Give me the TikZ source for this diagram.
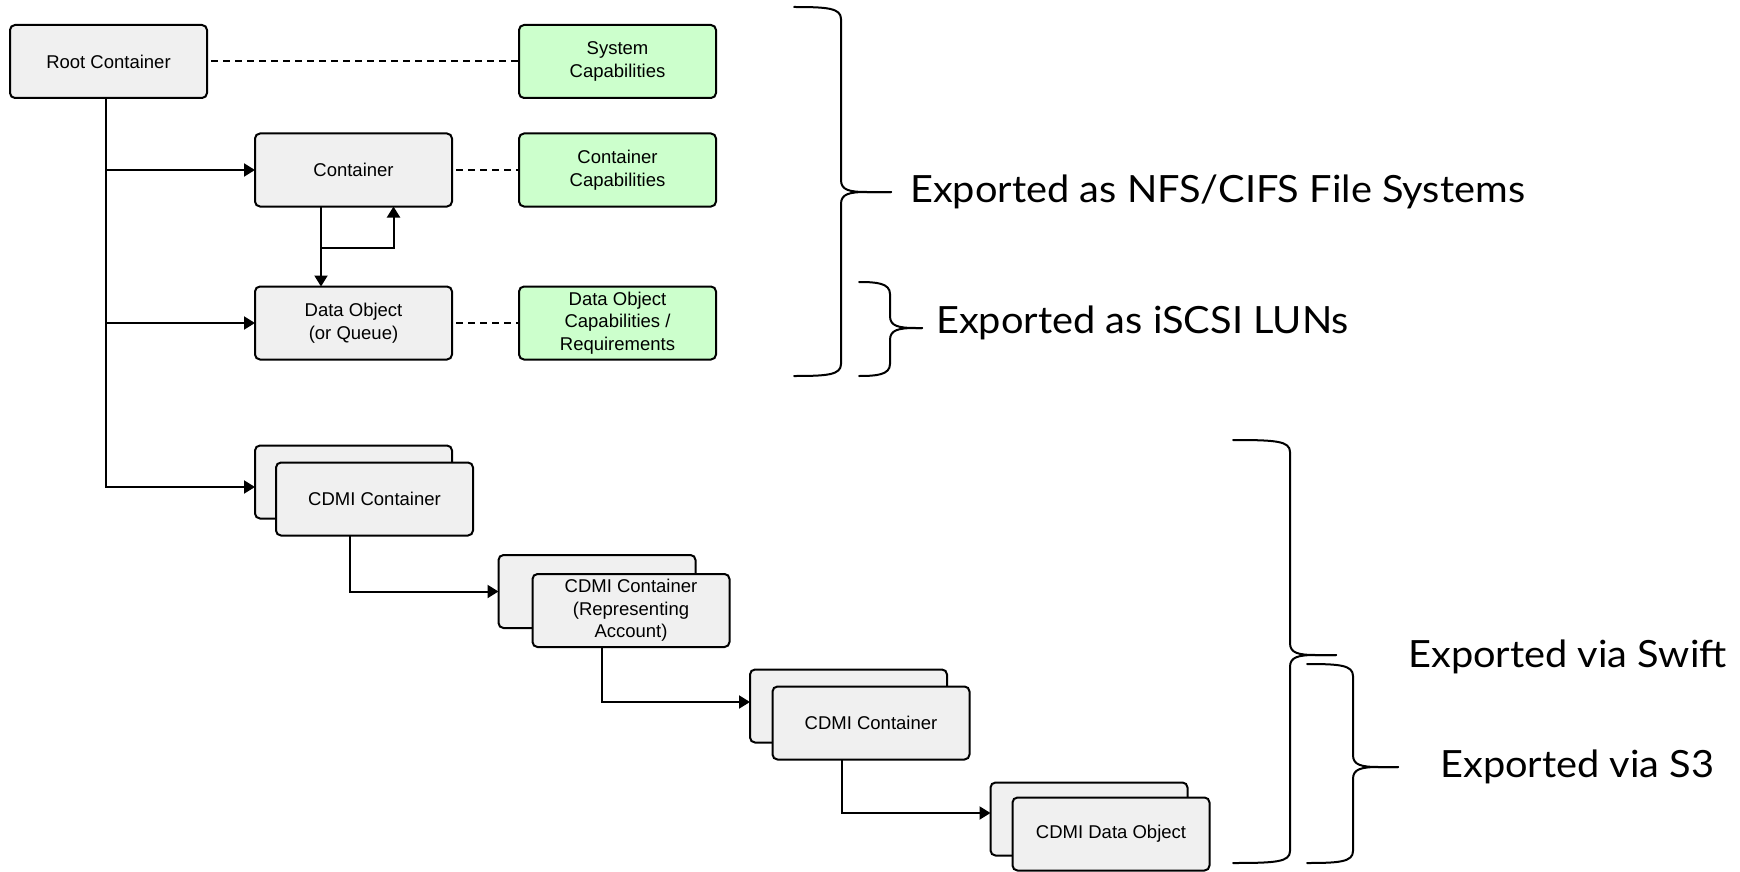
\documentclass[tikz,border=0pt]{standalone}
\usepackage{fontspec}
\setmainfont{Liberation Sans}
\newfontfamily\bracefont{Lato}
\usetikzlibrary{arrows.meta,calc}
\definecolor{boxgray}{HTML}{F0F0F0}
\definecolor{capgreen}{HTML}{CCFFCC}
\newcommand\mybrace[6]{% xl, xv, ytop, ytip, ybot, xtip
  \draw[brc] (#1,#3) .. controls ({#2-14},#3) and (#2,{#3+1}) .. (#2,{#3+12})
    -- (#2,{#4-12}) .. controls (#2,{#4-2}) and ({#2+8},#4) .. ({#2+26},#4) -- (#6,#4);
  \draw[brc] (#6,#4) -- ({#2+26},#4) .. controls ({#2+8},#4) and (#2,{#4+2}) .. (#2,{#4+12})
    -- (#2,{#5-12}) .. controls (#2,{#5-1}) and ({#2-14},#5) .. (#1,#5);
}
\begin{document}
\begin{tikzpicture}[x=1pt,y=-1pt,
  box/.style={draw=black, line width=2pt, rounded corners=5pt, fill=boxgray,
    minimum width=197pt, minimum height=73pt, inner sep=0pt, outer sep=0pt,
    align=center, font=\fontsize{18.5}{22.5}\selectfont},
  gbox/.style={box, fill=capgreen},
  arr/.style={line width=2pt, -{Triangle[length=11pt,width=13pt]}},
  dsh/.style={line width=2pt, dash pattern=on 7pt off 5pt},
  brc/.style={line width=2pt, line cap=round},
  lbl/.style={anchor=base west, inner sep=0pt, xscale=1.06, transform shape,
    font=\bracefont\fontsize{37.5}{40}\selectfont}
]
\useasboundingbox (0,0) rectangle (1740,872);

% main nodes
\node[box] (root) at (108.5,61.5) {Root Container};
\node[gbox] (syscap) at (617.5,61.5) {System\\Capabilities};
\node[box] (cont) at (353.5,170) {Container};
\node[gbox] (contcap) at (617.5,170) {Container\\Capabilities};
\node[box] (dobj) at (353.5,323) {Data Object\\(or Queue)};
\node[gbox] (dobjcap) at (617.5,323) {Data Object\\Capabilities /\\Requirements};

% CDMI stacks
\node[box] (c1b) at (353.5,482) {};
\node[box] (c1f) at (374.5,499) {CDMI Container};
\node[box] (c2b) at (597,591.5) {};
\node[box] (c2f) at (631,610.5) {CDMI Container\\(Representing\\Account)};
\node[box] (c3b) at (848.5,706) {};
\node[box] (c3f) at (871,723) {CDMI Container};
\node[box] (c4b) at (1089,819) {};
\node[box] (c4f) at (1111,834) {CDMI Data Object};

% dashed links
\draw[dsh, shorten <=4pt] (root.east) -- (syscap.west);
\draw[dsh, shorten <=4pt] (cont.east) -- (contcap.west);
\draw[dsh, shorten <=4pt] (dobj.east) -- (dobjcap.west);

% trunk
\draw[arr] ([xshift=-2.5pt]root.south) |- ([yshift=-5pt]c1b.west);
\draw[arr] ([xshift=-2.5pt]root.south |- cont.west) -- (cont.west);
\draw[arr] ([xshift=-2.5pt]root.south |- dobj.west) -- (dobj.west);

% container <-> data object
\draw[arr] ([xshift=-32.5pt]cont.south) -- ([xshift=-32.5pt]dobj.north);
\coordinate (lp) at (321,248);
\draw[arr] (lp) -| ([xshift=40pt]cont.south);

% CDMI chain
\draw[arr] ([xshift=-24.5pt]c1f.south) |- (c2b.west);
\draw[arr] ([xshift=-29pt]c2f.south) |- ([yshift=4pt]c3b.west);
\draw[arr] ([xshift=-29pt]c3f.south) |- ([yshift=6pt]c4b.west);

% braces
\mybrace{794}{841}{7}{192}{376}{891}
\mybrace{859}{890}{282}{328}{376}{922}
\mybrace{1233}{1290}{440}{655}{863}{1336}
\mybrace{1307}{1353}{664}{767}{863}{1398}

% labels
\node[lbl] (l1) at (910,202) {Exported as NFS/CIFS File Systems};
\node[lbl] (l2) at (936,333) {Exported as iSCSI LUNs};
\node[lbl] (l3) at (1408,667) {Exported via Swift};
\node[lbl] (l4) at (1440,777) {Exported via S3};
\end{tikzpicture}
\end{document}
